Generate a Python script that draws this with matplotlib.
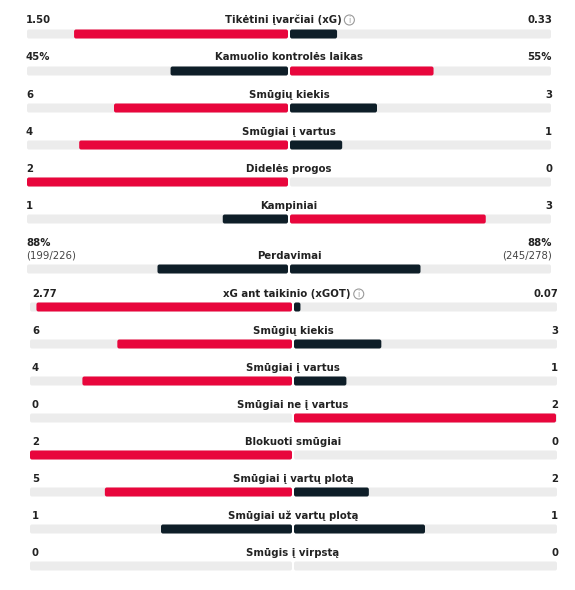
import matplotlib.pyplot as plt
from matplotlib.patches import FancyBboxPatch, Circle

RED = '#e8063c'
DARK = '#0e1e28'
TRACK = '#ececec'
TXT = '#222222'

# section 1 and section 2 stats
titles = ['Tikėtini įvarčiai (xG)', 'Kamuolio kontrolės laikas', 'Smūgių kiekis',
          'Smūgiai į vartus', 'Didelės progos', 'Kampiniai', 'Perdavimai',
          'xG ant taikinio (xGOT)', 'Smūgių kiekis', 'Smūgiai į vartus',
          'Smūgiai ne į vartus', 'Blokuoti smūgiai', 'Smūgiai į vartų plotą',
          'Smūgiai už vartų plotą', 'Smūgis į virpstą']
home = [1.50, 45, 6, 4, 2, 1, 88, 2.77, 6, 4, 0, 2, 5, 1, 0]
away = [0.33, 55, 3, 1, 0, 3, 88, 0.07, 3, 1, 2, 0, 2, 1, 0]
home_lbl = ['1.50', '45%', '6', '4', '2', '1', '88%', '2.77', '6', '4', '0', '2', '5', '1', '0']
away_lbl = ['0.33', '55%', '3', '1', '0', '3', '88%', '0.07', '3', '1', '2', '0', '2', '1', '0']
extra_home = {6: '(199/226)'}
extra_away = {6: '(245/278)'}
info = {0, 7}

text_y = [20, 57, 95, 132, 169, 206, 256, 294, 331, 368, 405, 442, 479, 516, 553]
bar_y = [34, 71, 108, 145, 182, 219, 269, 307, 344, 381, 418, 455, 492, 529, 566]

fig = plt.figure(figsize=(5.75, 5.9), dpi=100)
ax = fig.add_axes([0, 0, 1, 1])
ax.set_xlim(0, 575)
ax.set_ylim(590, 0)
ax.axis('off')

H = 9


def rbar(x0, x1, y, color):
    if x1 - x0 <= 0:
        return
    r = min(2, (x1 - x0) / 2)
    ax.add_patch(FancyBboxPatch((x0 + r, y - H / 2 + r), max(x1 - x0 - 2 * r, 0.01), H - 2 * r,
                                boxstyle=f'round,pad={r}', fc=color, ec='none'))


fig.canvas.draw()
renderer = fig.canvas.get_renderer()

for i, t in enumerate(titles):
    if i < 7:
        L, C, R = 27, 289, 551
    else:
        L, C, R = 30, 293, 557
    half = C - L - 1
    ty = text_y[i]
    tc = C - 6 if i in info else C
    tt = ax.text(tc, ty, t, ha='center', va='center', fontsize=7.3, weight='semibold', color=TXT)
    if i in info:
        bb = tt.get_window_extent(renderer)
        cx = tc + bb.width / 2 + 8
        ax.add_patch(Circle((cx, ty), 5, fc='none', ec='#9a9a9a', lw=0.8))
        ax.text(cx, ty + 0.5, 'i', ha='center', va='center', fontsize=5.5, color='#9a9a9a')
    if i in extra_home:
        ax.text(L - 1, ty - 13, home_lbl[i], ha='left', va='center', fontsize=7.3, weight='semibold', color=TXT)
        ax.text(L - 1, ty, extra_home[i], ha='left', va='center', fontsize=7.3, color='#444444')
        ax.text(R + 1, ty - 13, away_lbl[i], ha='right', va='center', fontsize=7.3, weight='semibold', color=TXT)
        ax.text(R + 1, ty, extra_away[i], ha='right', va='center', fontsize=7.3, color='#444444')
    else:
        ax.text(L + 2 if i >= 7 else L - 1, ty, home_lbl[i], ha='left', va='center', fontsize=7.3, weight='semibold', color=TXT)
        ax.text(R + 1, ty, away_lbl[i], ha='right', va='center', fontsize=7.3, weight='semibold', color=TXT)
    by = bar_y[i]
    rbar(L, C - 1, by, TRACK)
    rbar(C + 1, R, by, TRACK)
    tot = home[i] + away[i]
    if tot > 0:
        hl = home[i] / tot * half
        al = away[i] / tot * half
        hc = RED if home[i] > away[i] else DARK
        ac = RED if away[i] > home[i] else DARK
        rbar(C - 1 - hl, C - 1, by, hc)
        rbar(C + 1, C + 1 + al, by, ac)

fig.savefig('out.png', dpi=100, facecolor='white')
